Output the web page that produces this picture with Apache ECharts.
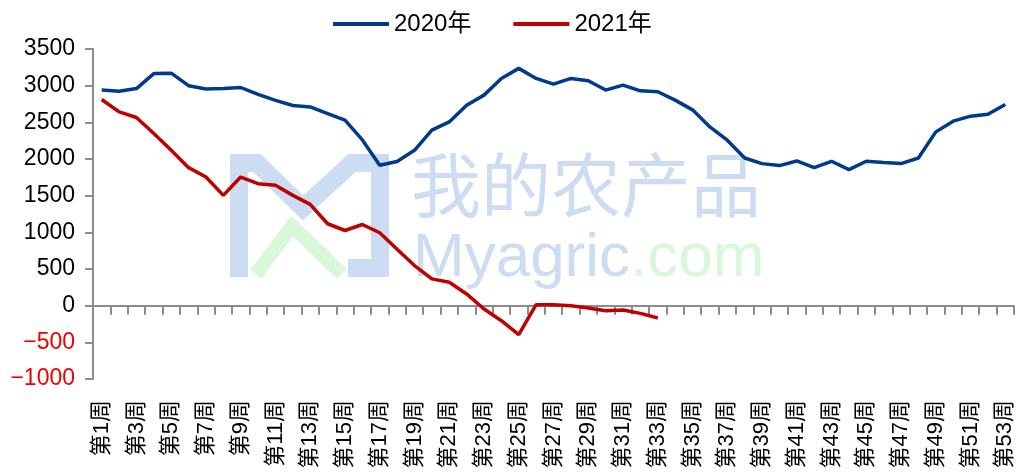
<!DOCTYPE html>
<html>
<head>
<meta charset="utf-8">
<script src="https://cdn.jsdelivr.net/npm/echarts@6/dist/echarts.min.js"></script>
<style>
  html, body { margin: 0; padding: 0; background: #fff; }
  #chart { width: 1019px; height: 476px; }
</style>
</head>
<body>
<div id="chart"></div>
<script>
const weeks = [
    '第1周', '第2周', '第3周', '第4周', '第5周', '第6周', '第7周', '第8周', '第9周', '第10周',
    '第11周', '第12周', '第13周', '第14周', '第15周', '第16周', '第17周', '第18周', '第19周', '第20周',
    '第21周', '第22周', '第23周', '第24周', '第25周', '第26周', '第27周', '第28周', '第29周', '第30周',
    '第31周', '第32周', '第33周', '第34周', '第35周', '第36周', '第37周', '第38周', '第39周', '第40周',
    '第41周', '第42周', '第43周', '第44周', '第45周', '第46周', '第47周', '第48周', '第49周', '第50周',
    '第51周', '第52周', '第53周'
];

const values2020 = [
    2940, 2925, 2960, 3165, 3170, 3000, 2955, 2963, 2975, 2880,
    2800, 2730, 2710, 2620, 2530, 2260, 1915, 1965, 2119, 2393,
    2506, 2734, 2871, 3099, 3236, 3099, 3021, 3099, 3067, 2940,
    3008, 2930, 2917, 2803, 2670, 2438, 2256, 2014, 1937, 1910,
    1973, 1882, 1969, 1855, 1969, 1951, 1937, 2014, 2370, 2516,
    2584, 2611, 2744
];

const values2021 = [
    2812, 2643, 2566, 2347, 2119, 1882, 1754, 1504, 1754, 1663,
    1641, 1504, 1381, 1117, 1025, 1107, 994, 770, 547, 365,
    319, 160, -45, -205, -396, 14, 14, 0, -31, -68,
    -59, -105, -168
];

const seriesNames = ['2020年', '2021年'];

const FONT = '"Liberation Sans", Arial, "Noto Sans CJK SC", sans-serif';
const AXIS_GRAY = '#8c8c8c';

const chart = echarts.init(document.getElementById('chart'));

// 水印（背景装饰）
const wmBlue = '#cbdcf3';
const wmGreen = '#d9f7d9';
const watermark = [
    {
        type: 'polyline', z: 0, silent: true,
        shape: { points: [[239, 277], [239, 163], [257, 163], [303, 208], [352, 163], [380, 163], [380, 268], [348, 268]] },
        style: { stroke: wmBlue, lineWidth: 18, fill: null, lineJoin: 'miter' }
    },
    {
        type: 'polyline', z: 0, silent: true,
        shape: { points: [[256, 274], [292, 226], [342, 274]] },
        style: { stroke: wmGreen, lineWidth: 14, fill: null }
    },
    {
        type: 'text', z: 0, silent: true, left: 411, top: 150,
        style: { text: '我的农产品', fill: wmBlue, font: '70px "Noto Sans CJK SC", sans-serif' }
    },
    {
        type: 'text', z: 0, silent: true, left: 413, top: 228,
        style: {
            text: '{b|Myagric}{g|.com}',
            rich: {
                b: { fill: wmBlue, fontSize: 62, fontFamily: FONT },
                g: { fill: wmGreen, fontSize: 62, fontFamily: FONT }
            }
        }
    }
];

const option = {
    backgroundColor: '#fff',
    animation: false,
    graphic: watermark,
    legend: {
        data: seriesNames,
        left: 328,
        top: 7,
        icon: 'rect',
        itemWidth: 56,
        itemHeight: 4,
        itemGap: 42,
        textStyle: { fontSize: 24, color: '#000', fontFamily: FONT }
    },
    grid: { left: 93, right: 5, top: 49, bottom: 97, outerBoundsMode: 'none' },
    xAxis: [
        {
            // 零轴线与刻度
            type: 'category',
            data: weeks,
            boundaryGap: true,
            axisLine: { onZero: true, lineStyle: { color: AXIS_GRAY, width: 2 } },
            axisTick: { show: true, interval: 0, length: 9, lineStyle: { color: AXIS_GRAY, width: 2 } },
            axisLabel: { show: false }
        },
        {
            // 底部标签
            type: 'category',
            data: weeks,
            position: 'bottom',
            boundaryGap: true,
            axisLine: { show: false, onZero: false },
            axisTick: { show: false },
            axisLabel: {
                interval: 1,
                rotate: 90,
                margin: 21,
                fontSize: 22,
                color: '#000',
                fontFamily: FONT
            }
        }
    ],
    yAxis: {
        type: 'value',
        min: -1000,
        max: 3500,
        interval: 500,
        splitLine: { show: false },
        axisLine: { show: true, lineStyle: { color: AXIS_GRAY, width: 2 } },
        axisTick: { show: true, length: 8, lineStyle: { color: AXIS_GRAY, width: 2 } },
        axisLabel: {
            margin: 18,
            fontSize: 23,
            color: '#000',
            fontFamily: FONT,
            formatter: function (v) {
                if (v < 0) {
                    return '{n|' + String(v).replace('-', '−') + '}';
                }
                return String(v);
            },
            rich: { n: { color: '#ee0000', fontSize: 23, fontFamily: FONT } }
        }
    },
    series: [
        {
            name: seriesNames[0],
            type: 'line',
            data: values2020,
            symbol: 'none',
            z: 3,
            lineStyle: { color: '#003a8c', width: 3.5 },
            itemStyle: { color: '#003a8c' }
        },
        {
            name: seriesNames[1],
            type: 'line',
            data: values2021,
            symbol: 'none',
            z: 3,
            lineStyle: { color: '#c00000', width: 3.5 },
            itemStyle: { color: '#c00000' }
        }
    ]
};

chart.setOption(option);
</script>
</body>
</html>
